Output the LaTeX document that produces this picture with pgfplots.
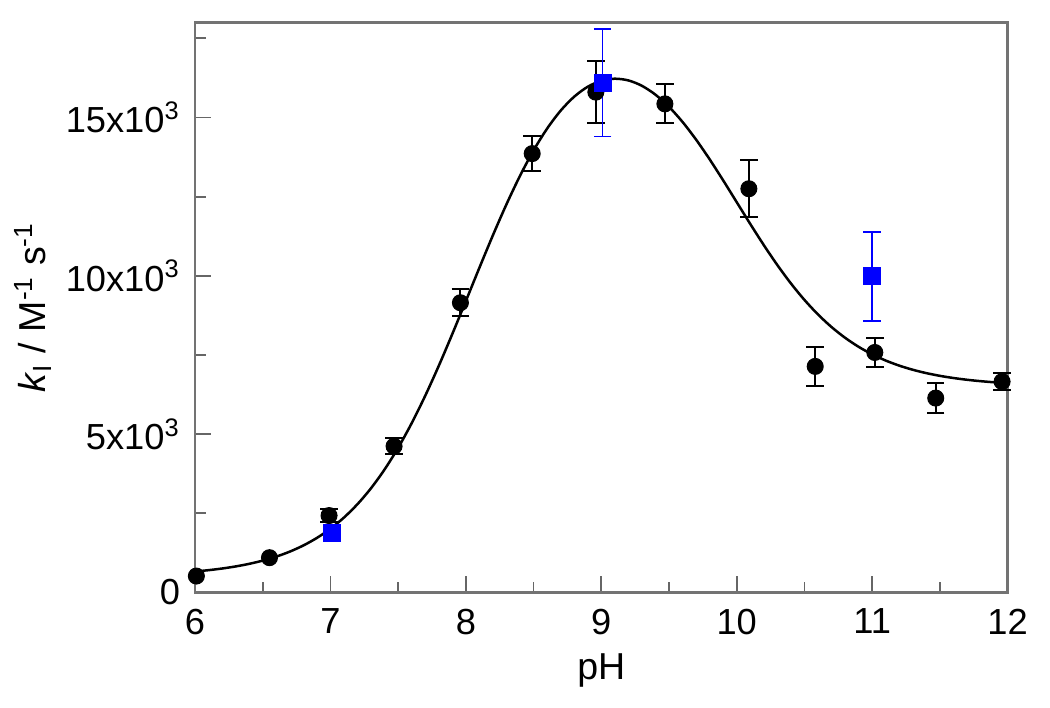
\documentclass[border=0pt]{standalone}
\usepackage{fontspec}
\setmainfont{Liberation Sans}
\usepackage{pgfplots}
\usepackage{pgfplotstable}
\pgfplotsset{compat=1.18}

% fitted curve, read as values
\pgfplotstableread{
x y
6.0 663.4
6.1 705.3
6.2 757.7
6.3 823.3
6.4 905.1
6.5 1007.1
6.6 1133.9
6.7 1291.0
6.8 1485.1
6.9 1723.4
7.0 2014.3
7.1 2366.9
7.2 2790.5
7.3 3294.2
7.4 3885.4
7.5 4569.1
7.6 5346.3
7.7 6212.6
7.8 7157.2
7.9 8162.2
8.0 9203.8
8.1 10253.8
8.2 11281.9
8.3 12258.7
8.4 13158.1
8.5 13959.7
8.6 14648.4
8.7 15215.9
8.8 15656.5
8.9 15970.6
9.0 16159.2
9.1 16224.9
9.2 16170.9
9.3 16001.2
9.4 15721.2
9.5 15337.8
9.6 14860.7
9.7 14303.0
9.8 13681.5
9.9 13015.9
10.0 12328.1
10.1 11640.1
10.2 10972.5
10.3 10342.5
10.4 9762.8
10.5 9241.6
10.6 8782.2
10.7 8384.6
10.8 8045.5
10.9 7760.0
11.0 7522.2
11.1 7326.0
11.2 7165.3
11.3 7034.3
11.4 6928.2
11.5 6842.6
11.6 6773.7
11.7 6718.4
11.8 6674.1
11.9 6638.7
12.0 6610.4
}\fitcurve

\pgfplotstableread{
x y ey
6.99 2430 200
7.47 4620 250
7.96 9150 430
8.49 13860 550
8.96 15800 970
9.47 15430 615
10.09 12750 900
10.58 7140 620
11.02 7580 470
11.47 6140 480
11.96 6660 260
}\kdata

\pgfplotstableread{
x y
6.01 520
6.55 1100
}\kdatanoerr

\pgfplotstableread{
x y ey
9.01 16100 1700
11.00 9980 1400
}\bluedata

\pgfplotstableread{
x y
7.01 1870
}\bluenoerr

\begin{document}
\begin{tikzpicture}
\begin{axis}[
  scale only axis,
  width=325pt, height=228pt,
  xmin=6, xmax=12, ymin=0, ymax=18000,
  xtick={6,7,8,9,10,11,12}, minor x tick num=1,
  ytick={0,5000,10000,15000},
  minor ytick={2500,7500,12500,17500},
  yticklabels={0,5x10\textsuperscript{3},10x10\textsuperscript{3},15x10\textsuperscript{3}},
  scaled y ticks=false,
  /pgf/number format/assume math mode=true,
  tick align=inside, xtick pos=left, ytick pos=left,
  major tick length=6.5pt, minor tick length=4.2pt,
  axis line style={black!55, line width=0.9pt},
  every tick/.style={black!60, line width=0.7pt},
  tick label style={font=\fontsize{14.5}{16}\selectfont},
  xticklabel style={yshift=-3pt},
  yticklabel style={xshift=-2.5pt},
  label style={font=\fontsize{15}{17}\selectfont},
  xlabel={pH},
  xlabel style={yshift=-1pt},
  ylabel={\textit{k}\textsubscript{I} / M\textsuperscript{-1} s\textsuperscript{-1}},
  ylabel shift=-1pt,
  clip=false,
]
\addplot[black, line width=1pt, smooth] table {\fitcurve};
\addplot[only marks, mark=*, mark size=3.2pt, black,
  error bars/.cd, y dir=both, y explicit,
  error bar style={line width=0.8pt, black},
  error mark options={rotate=90, line width=0.8pt, mark size=3.5pt}]
  table[x=x, y=y, y error=ey] {\kdata};
\addplot[only marks, mark=*, mark size=3.2pt, black] table {\kdatanoerr};
\addplot[only marks, mark=square*, mark size=3.4pt, blue,
  mark options={rounded corners=1pt},
  error bars/.cd, y dir=both, y explicit,
  error bar style={line width=0.6pt, blue},
  error mark options={rotate=90, line width=0.6pt, mark size=3.5pt}]
  table[x=x, y=y, y error=ey] {\bluedata};
\addplot[only marks, mark=square*, mark size=3.4pt, blue,
  mark options={rounded corners=1pt}] table {\bluenoerr};
\end{axis}
\path (current axis.north east) ++(17pt,9pt);
\path (current axis.south west) ++(-78pt,-46pt);
\end{tikzpicture}
\end{document}
